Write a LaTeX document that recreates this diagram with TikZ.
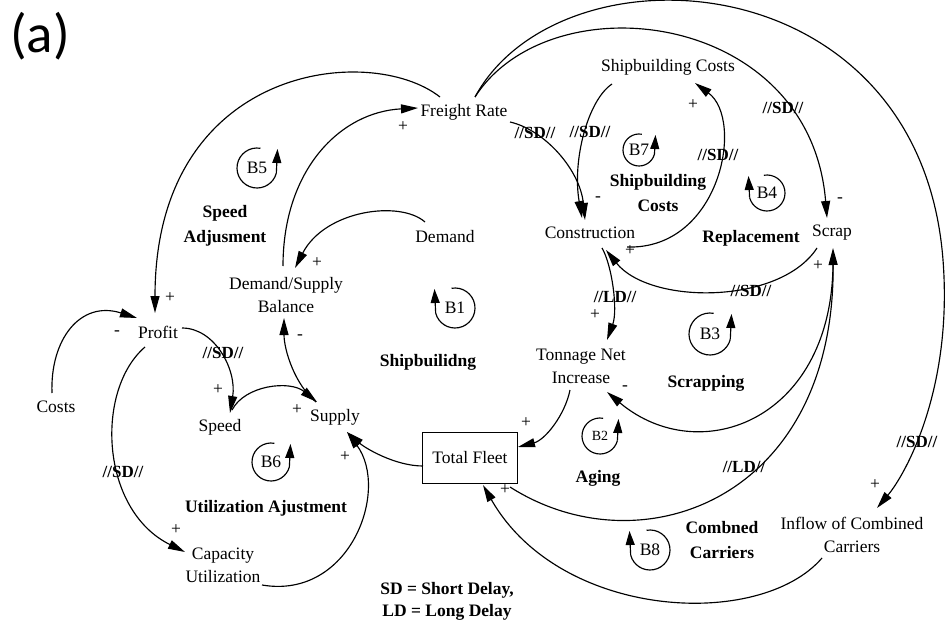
\documentclass[tikz,border=0pt]{standalone}
\usepackage{fontspec}
\setmainfont{Liberation Serif}
\newfontfamily\panelfont{Carlito}
\usetikzlibrary{arrows.meta}

\tikzset{
  pics/loopccw/.style={code={
    \begin{scope}[x=1pt,y=1pt]
      \draw[loopline] (80:#1) arc[start angle=80,end angle=345,radius=#1];
      \draw[looptip] (345:#1) -- ({#1+0.5},{#1-1});
    \end{scope}}},
  pics/loopcw/.style={code={
    \begin{scope}[x=1pt,y=1pt]
      \draw[loopline] (100:#1) arc[start angle=100,end angle=-165,radius=#1];
      \draw[looptip] (-165:#1) -- ({-#1-0.5},{#1-1});
    \end{scope}}},
}

\begin{document}
\begin{tikzpicture}[x=1pt,y=-1pt,
  every node/.style={font=\fontsize{17.5}{23}\selectfont, inner sep=1pt},
  var/.style={align=center},
  stock/.style={draw, line width=1.2pt, minimum width=95pt, minimum height=51pt},
  looptitle/.style={align=center, font=\fontsize{17.5}{25}\selectfont\bfseries},
  loopnum/.style={font=\fontsize{17.5}{20}\selectfont, inner sep=0pt},
  delay/.style={font=\fontsize{17}{20}\selectfont\bfseries, inner sep=0pt},
  sign/.style={font=\fontsize{17.5}{20}\selectfont, inner sep=0pt},
  link/.style={line width=1.15pt, -{Triangle[length=17pt,width=9pt]}},
  loopline/.style={line width=1.15pt},
  looptip/.style={line width=1.15pt, -{Triangle[length=14pt,width=9pt]}},
]
\fill[white] (0,0) rectangle (948,626);
\useasboundingbox (0,0) rectangle (948,626);

% panel tag
\node[font=\panelfont\fontsize{55}{60}\selectfont] (tag) at (40,36) {(a)};

% variables
\node[var] (fr)  at (464,112) {Freight Rate};
\node[var] (sc)  at (668,67)  {Shipbuilding Costs};
\node[var] (con) at (590,233) {Construction};
\node[var] (scr) at (832,233) {Scrap};
\node[var] (dem) at (445,237) {Demand};
\node[var] (dsb) at (286,295) {Demand/Supply\\Balance};
\node[var] (pro) at (158,332) {Profit};
\node[var] (cos) at (56,407)  {Costs};
\node[var] (spd) at (220,427) {Speed};
\node[var] (sup) at (335,417) {Supply};
\node[var] (tni) at (581,366) {Tonnage Net\\Increase};
\node[stock] (tf) at (470,458) {Total Fleet};
\node[var] (cu)  at (223,565) {Capacity\\Utilization};
\node[var] (icc) at (852,535) {Inflow of Combined\\Carriers};

% loop titles
\node[looptitle] (tSA)  at (225,226) {Speed\\Adjusment};
\node[looptitle] (tSC)  at (658,193) {Shipbuilding\\Costs};
\node[looptitle] (tRE)  at (751,238) {Replacement};
\node[looptitle] (tSH)  at (428,362) {Shipbuilidng};
\node[looptitle] (tSCR) at (706,383) {Scrapping};
\node[looptitle] (tAG)  at (598,478) {Aging};
\node[looptitle] (tUA)  at (266,508) {Utilization Ajustment};
\node[looptitle] (tCC)  at (722,540) {Combned\\Carriers};
\node[looptitle, font=\fontsize{17.5}{22}\selectfont\bfseries] (key) at (447,601) {SD = Short Delay,\\LD = Long Delay};

% loop markers
\node[loopnum] (b5) at (257,168) {B5}; \pic at (b5.center) {loopccw=20};
\node[loopnum] (b7) at (639,150) {B7}; \pic at (b7.center) {loopccw=16};
\node[loopnum] (b4) at (767,193) {B4}; \pic at (b4.center) {loopcw=18};
\node[loopnum] (b1) at (455,308) {B1}; \pic at (b1.center) {loopcw=20};
\node[loopnum] (b3) at (710,334) {B3}; \pic at (b3.center) {loopccw=21};
\node[loopnum, font=\fontsize{14}{16}\selectfont] (b2) at (600,436) {B2}; \pic at (b2.center) {loopccw=18};
\node[loopnum] (b6) at (271,462) {B6}; \pic at (b6.center) {loopccw=19};
\node[loopnum] (b8) at (650,550) {B8}; \pic at (b8.center) {loopcw=20};

% causal links
\draw[link] ([shift={(-24,-15)}]fr.center) .. controls (370,42) and (155,65) .. ([shift={(-3,-19)}]pro.center);
\draw[link] ([shift={(-3,-29)}]dsb.center) .. controls (283,170) and (340,112) .. ([shift={(-46,-4)}]fr.center);
\draw[link] ([shift={(-20,-15)}]dem.center) .. controls (400,200) and (325,210) .. ([shift={(9,-27)}]dsb.center);
\draw[link] ([shift={(-19,-15)}]sup.center) .. controls (295,385) and (284,350) .. ([shift={(-2,23)}]dsb.center);
\draw[link] ([shift={(24,-4)}]pro.center) .. controls (215,328) and (237,370) .. ([shift={(10,-14)}]spd.center);
\draw[link] ([shift={(12,-17)}]spd.center) .. controls (245,385) and (290,380) .. ([shift={(-18,-15)}]sup.center);
\draw[link] ([shift={(-4,-14)}]cos.center) .. controls (50,340) and (80,300) .. ([shift={(-21,-14)}]pro.center);
\draw[link] ([shift={(-13,15)}]pro.center) .. controls (95,390) and (100,510) .. ([shift={(-38,-13)}]cu.center);
\draw[link] ([shift={(39,20)}]cu.center) .. controls (350,600) and (390,490) .. ([shift={(12,15)}]sup.center);
\draw[link] ([shift={(-47,8)}]tf.center) .. controls (395,466) and (365,448) .. ([shift={(12,15)}]sup.center);
\draw[link] ([shift={(-11,24)}]tni.center) .. controls (565,415) and (545,440) .. ([shift={(48,-11)}]tf.center);
\draw[link] ([shift={(12,15)}]con.center) .. controls (612,265) and (618,310) .. ([shift={(26,-26)}]tni.center);
\draw[link] ([shift={(46,10)}]fr.center) .. controls (545,130) and (580,170) .. ([shift={(-5,-13)}]con.center);
\draw[link] ([shift={(-56,17)}]sc.center) .. controls (588,100) and (572,160) .. ([shift={(-8,-15)}]con.center);
\draw[link] ([shift={(37,14)}]con.center) .. controls (720,250) and (745,120) .. ([shift={(27,16)}]sc.center);
\draw[link] ([shift={(-15,15)}]scr.center) .. controls (780,305) and (650,305) .. ([shift={(16,17)}]con.center);
\draw[link] ([shift={(11,-15)}]fr.center) .. controls (550,-20) and (810,10) .. ([shift={(-5,-15)}]scr.center);
\coordinate (farright) at (943,260);
\draw[link] ([shift={(11,-15)}]fr.center) .. controls (560,-60) and (920,-40) .. (farright)
  .. controls (953,390) and (905,475) .. ([shift={(25,-27)}]icc.center);
\draw[link] ([shift={(1,25)}]scr.center) .. controls (835,420) and (700,470) .. ([shift={(26,26)}]tni.center);
\draw[link] ([shift={(40,29)}]tf.center) .. controls (640,570) and (835,500) .. ([shift={(1,15)}]scr.center);
\draw[link] ([shift={(-30,23)}]icc.center) .. controls (760,630) and (560,620) .. ([shift={(13,27)}]tf.center);

% polarities
\node[sign] (s1)  at (170,298) {+};
\node[sign] (s2)  at (403,127) {+};
\node[sign] (s3)  at (317,263) {+};
\node[sign] (s4)  at (300,337) {-};
\node[sign] (s5)  at (117,333) {-};
\node[sign] (s6)  at (218,390) {+};
\node[sign] (s7)  at (297,410) {+};
\node[sign] (s8)  at (176,530) {+};
\node[sign] (s9)  at (345,457) {+};
\node[sign] (s10) at (526,423) {+};
\node[sign] (s11) at (505,490) {+};
\node[sign] (s12) at (598,199) {-};
\node[sign] (s13) at (693,105) {+};
\node[sign] (s14) at (630,251) {+};
\node[sign] (s15) at (840,200) {-};
\node[sign] (s16) at (818,266) {+};
\node[sign] (s17) at (595,315) {+};
\node[sign] (s18) at (625,388) {-};
\node[sign] (s19) at (875,485) {+};

% delay marks
\node[delay] (d1)  at (223,353) {//SD//};
\node[delay] (d2)  at (123,472) {//SD//};
\node[delay] (d3)  at (535,133) {//SD//};
\node[delay] (d4)  at (590,132) {//SD//};
\node[delay] (d5)  at (718,155) {//SD//};
\node[delay] (d6)  at (783,108) {//SD//};
\node[delay] (d7)  at (751,291) {//SD//};
\node[delay] (d8)  at (615,297) {//LD//};
\node[delay] (d9)  at (744,467) {//LD//};
\node[delay] (d10) at (917,442) {//SD//};
\end{tikzpicture}
\end{document}
